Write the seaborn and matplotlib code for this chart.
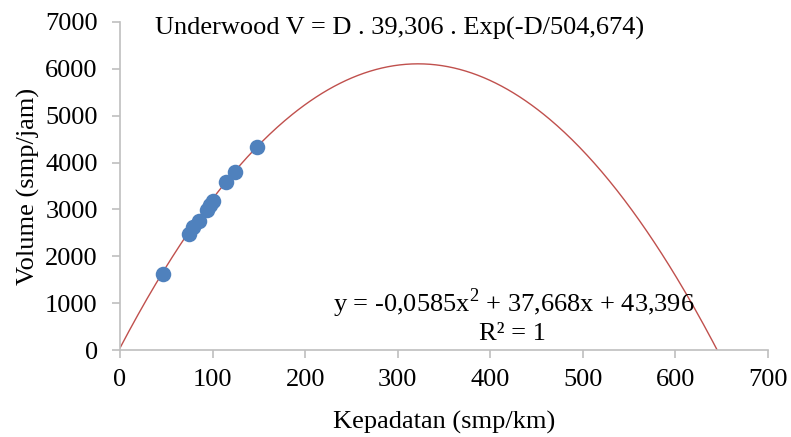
import numpy as np
import pandas as pd
import seaborn as sns
import matplotlib.pyplot as plt

# observed data (density vs volume)
kepadatan = [46, 74, 79, 85, 94, 97, 100, 115, 124, 148]
volume = [1615, 2470, 2630, 2760, 2990, 3095, 3185, 3590, 3805, 4330]

# polynomial trendline coefficients
a, b, c = -0.0585, 37.668, 43.396

sns.set_theme(style='white')
plt.rcParams['font.family'] = ['Liberation Serif', 'DejaVu Serif']
plt.rcParams['mathtext.fontset'] = 'custom'
plt.rcParams['mathtext.rm'] = 'Liberation Serif'

df = pd.DataFrame({'Kepadatan': kepadatan, 'Volume': volume})

xs = np.linspace(0, 645, 400)
trend = pd.DataFrame({'x': xs, 'y': a * xs**2 + b * xs + c})
trend = trend[trend['y'] >= 0]

fig = plt.figure(figsize=(7.91, 4.37), dpi=100)
ax = fig.add_axes([0.1517, 0.199, 0.8193, 0.7507])

sns.lineplot(data=trend, x='x', y='y', ax=ax, color='#C0504D', linewidth=1.0, sort=False)
sns.scatterplot(data=df, x='Kepadatan', y='Volume', ax=ax, color='#4F81BD', s=125,
                edgecolor='#4F81BD', linewidth=0, zorder=3)

fs = 19
ax.set_xlim(0, 700)
ax.set_ylim(0, 7000)
ax.set_xticks(range(0, 701, 100))
ax.set_yticks(range(0, 7001, 1000))
ax.set_xlabel('Kepadatan (smp/km)', fontsize=fs, color='black', labelpad=14)
ax.set_ylabel('Volume (smp/jam)', fontsize=fs, color='black', labelpad=4)
ax.tick_params(axis='both', labelsize=fs, colors='black', length=6, width=1.2,
               direction='out', bottom=True, left=True)
ax.tick_params(axis='x', pad=8)
ax.tick_params(axis='y', pad=10)
ax.tick_params(axis='both', color='#BFBFBF')

for side in ['top', 'right']:
    ax.spines[side].set_visible(False)
for side in ['left', 'bottom']:
    ax.spines[side].set_color('#BFBFBF')
    ax.spines[side].set_linewidth(1.2)

ax.text(38, 6870, 'Underwood V = D . 39,306 . Exp(-D/504,674)', fontsize=fs, color='black',
        va='center', ha='left')
ax.text(425, 1000, 'y = -0,0585x$^{2}$ + 37,668x + 43,396', fontsize=fs, color='black',
        va='center', ha='center')
ax.text(424, 340, 'R² = 1', fontsize=fs, color='black', va='center', ha='center')

fig.savefig('out.png', dpi=100)
